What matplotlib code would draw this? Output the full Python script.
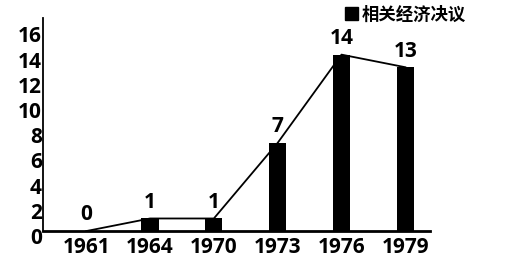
import numpy as np
from matplotlib import pyplot as plt
from matplotlib.patches import Patch
from matplotlib.transforms import ScaledTranslation

plt.rcParams['font.family'] = ['Open Sans', 'Noto Sans CJK SC', 'DejaVu Sans']

# 数据
years = ['1961', '1964', '1970', '1973', '1976', '1979']
counts = [0, 1, 1, 7, 14, 13]
series_name = '相关经济决议'
y_ticks = [0, 2, 4, 6, 8, 10, 12, 14, 16]

fig = plt.figure(figsize=(5.14, 2.62), dpi=100)
ax = fig.add_axes([0.084, 0.118, 0.753, 0.813])

x = np.arange(len(years))
ax.bar(x, counts, width=0.27, color='black', zorder=2)
ax.plot(x, counts, color='black', linewidth=1.3, zorder=3)

# 数值标签
for xi, v in zip(x, counts):
    ax.text(xi, v + 0.45, str(v), ha='center', va='bottom',
            fontsize=15, fontweight='bold')

ax.set_xticks(x)
ax.set_xticklabels(years)
ax.set_yticks(y_ticks)
ax.set_xlim(-0.674, 5.39)
ax.set_ylim(0, 16.9)
ax.tick_params(axis='both', length=0, labelsize=15)
ax.tick_params(axis='x', pad=4)
ax.tick_params(axis='y', pad=1)
for lab in ax.get_xticklabels() + ax.get_yticklabels():
    lab.set_fontweight('bold')
# y轴刻度标签整体略向下移
shift = ScaledTranslation(0, -5 / 100, fig.dpi_scale_trans)
for lab in ax.get_yticklabels():
    lab.set_transform(lab.get_transform() + shift)

ax.spines['top'].set_visible(False)
ax.spines['right'].set_visible(False)
ax.spines['bottom'].set_linewidth(2)
ax.spines['left'].set_linewidth(1.3)

# 图例
fig.legend(handles=[Patch(color='black', label=series_name)],
           loc='center left', bbox_to_anchor=(0.672, 0.945),
           frameon=False, handlelength=0.75, handleheight=0.75,
           handletextpad=0.2, borderpad=0, borderaxespad=0,
           prop={'family': ['Noto Sans CJK SC'], 'weight': 'bold', 'size': 12.5})

plt.savefig('out.png', dpi=100)
